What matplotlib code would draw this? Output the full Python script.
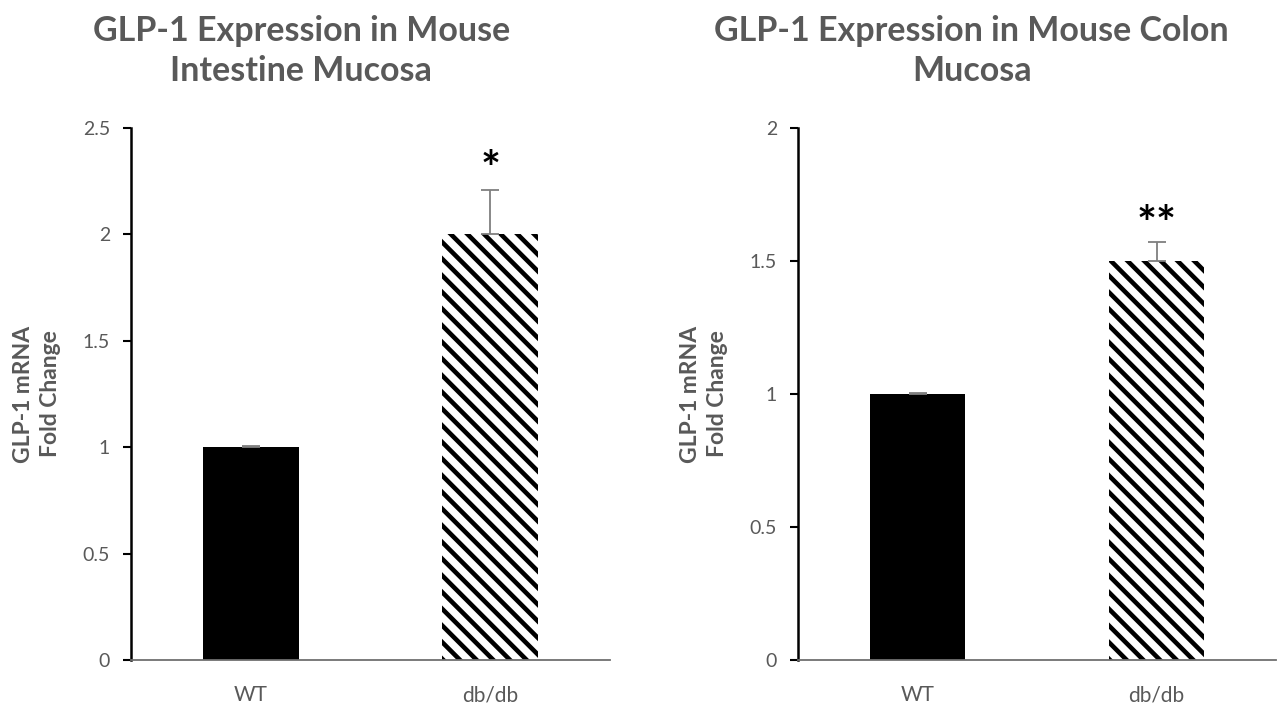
import numpy as np
import matplotlib.pyplot as plt

plt.rcParams['font.family'] = ['Lato', 'DejaVu Sans']
plt.rcParams['hatch.linewidth'] = 3.3

groups = ['WT', 'db/db']
intestine = [1.0, 2.0]
intestine_err = [0.005, 0.21]
colon = [1.0, 1.5]
colon_err = [0.003, 0.07]
intestine_sig = ['', '*']
colon_sig = ['', '**']

gray = '#595959'

fig = plt.figure(figsize=(12.82, 7.13), dpi=100)
ax1 = fig.add_axes([0.1022, 0.0743, 0.3736, 0.7462])
ax2 = fig.add_axes([0.6225, 0.0743, 0.3729, 0.7462])


def draw(ax, vals, errs, sig, ymax, step, star_off):
    x = np.arange(len(groups))
    ax.bar(x, vals, width=0.4, color=['black', 'white'], edgecolor='black',
           linewidth=0, hatch=[None, '\\\\'])
    ax.errorbar(x, vals, yerr=[np.zeros(len(errs)), errs], fmt='none',
                ecolor='#7f7f7f', elinewidth=1.3, capsize=6.5, capthick=1.3)
    for xi, v, e, s in zip(x, vals, errs, sig):
        if s:
            ax.text(xi, v + e + star_off, s, ha='center', va='center',
                    fontsize=34, fontweight='bold', color='black')
    ax.set_xlim(-0.5, 1.5)
    ax.set_ylim(0, ymax)
    ticks = np.arange(0, ymax + 0.001, step)
    ax.set_yticks(ticks)
    ax.set_yticklabels(['%g' % t for t in ticks])
    ax.set_xticks(x)
    ax.set_xticklabels(groups)
    ax.spines['top'].set_visible(False)
    ax.spines['right'].set_visible(False)
    ax.spines['left'].set_linewidth(1.8)
    ax.spines['left'].set_color('black')
    ax.spines['bottom'].set_linewidth(1.3)
    ax.spines['bottom'].set_color('#6f6f6f')
    ax.tick_params(axis='y', length=6, width=1.5, color='black',
                   labelcolor=gray, labelsize=14, pad=9)
    ax.tick_params(axis='x', length=0, labelcolor=gray, labelsize=15, pad=18)
    ax.set_ylabel('GLP-1 mRNA\nFold Change', fontsize=16.5, fontweight='bold',
                  color=gray, labelpad=16, linespacing=1.35)


draw(ax1, intestine, intestine_err, intestine_sig, 2.5, 0.5, 0.09)
draw(ax2, colon, colon_err, colon_sig, 2.0, 0.5, 0.06)

fig.text(0.235, 0.928, 'GLP-1 Expression in Mouse\nIntestine Mucosa', ha='center',
         va='center', fontsize=24.5, fontweight='bold', color=gray, linespacing=1.3)
fig.text(0.758, 0.928, 'GLP-1 Expression in Mouse Colon\nMucosa', ha='center',
         va='center', fontsize=24.5, fontweight='bold', color=gray, linespacing=1.3)

fig.savefig('out.png', dpi=100)
